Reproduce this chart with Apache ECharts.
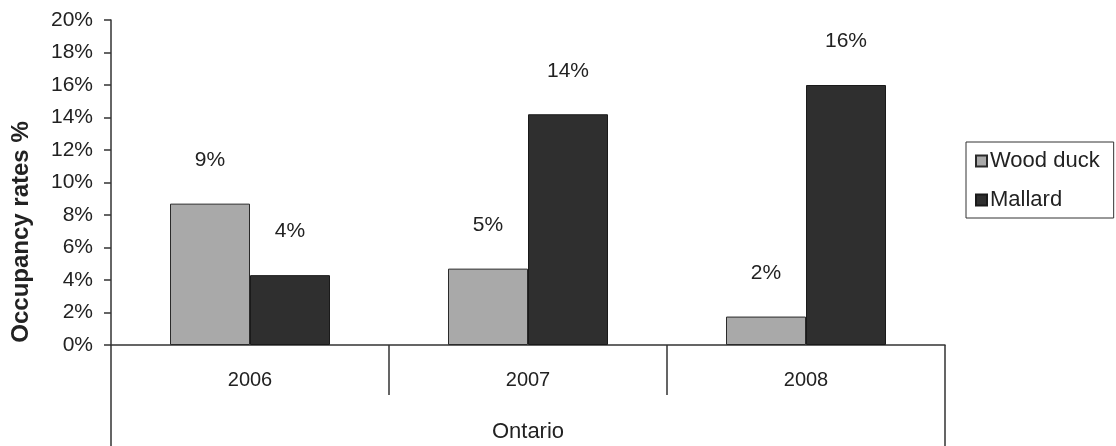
<!DOCTYPE html>
<html>
<head>
<meta charset="utf-8">
<script src="https://cdn.jsdelivr.net/npm/echarts@6/dist/echarts.min.js"></script>
<style>
  html, body { margin: 0; padding: 0; background: #fff; }
  #chart { width: 1116px; height: 446px; }
</style>
</head>
<body>
<div id="chart"></div>
<script>
// Nest box occupancy in Ontario, by year and species (percent)
const years = ['2006', '2007', '2008'];
const region = ['Ontario'];
const woodDuck = [8.7, 4.7, 1.75];
const mallard = [4.3, 14.2, 16.0];
const seriesNames = ['Wood duck', 'Mallard'];

const FONT = '"Liberation Sans", Arial, sans-serif';
const INK = '#222';

const chart = echarts.init(document.getElementById('chart'));

const pctLabel = {
  show: true,
  position: 'top',
  distance: 33,
  fontFamily: FONT,
  fontSize: 21,
  color: INK,
  formatter: p => Math.round(p.value) + '%'
};

chart.setOption({
  animation: false,
  backgroundColor: '#fff',
  grid: { left: 111, right: 171, top: 20, bottom: 101, containLabel: false },
  legend: {
    orient: 'vertical',
    left: 966,
    top: 142,
    padding: [8, 14, 7, 9],
    itemGap: 17,
    itemWidth: 11,
    itemHeight: 11,
    borderColor: '#333',
    borderWidth: 1,
    borderRadius: 0,
    icon: 'rect',
    data: seriesNames,
    textStyle: { fontFamily: FONT, fontSize: 22, color: INK, padding: [0, 0, 0, -2] }
  },
  xAxis: [
    {
      type: 'category',
      data: years,
      position: 'bottom',
      axisLine: { show: true, lineStyle: { color: '#333', width: 1.5 } },
      axisTick: { show: true, alignWithLabel: false, inside: false, length: 50, lineStyle: { color: '#333', width: 1.5 } },
      axisLabel: { margin: 25, fontFamily: FONT, fontSize: 20, color: INK },
      splitLine: { show: false }
    },
    {
      type: 'category',
      data: region,
      position: 'bottom',
      axisLine: { show: false },
      axisTick: { show: true, alignWithLabel: false, length: 110, lineStyle: { color: '#333', width: 1.5 } },
      axisLabel: { margin: 76, fontFamily: FONT, fontSize: 22, color: INK },
      splitLine: { show: false }
    }
  ],
  yAxis: {
    type: 'value',
    min: 0,
    max: 20,
    interval: 2,
    axisLine: { show: true, lineStyle: { color: '#333', width: 1.5 } },
    axisTick: { show: true, length: 7, lineStyle: { color: '#333', width: 1.5 } },
    axisLabel: { margin: 18, fontFamily: FONT, fontSize: 21, color: INK, formatter: '{value}%' },
    splitLine: { show: false }
  },
  graphic: [
    {
      type: 'text',
      x: 21,
      y: 232,
      rotation: Math.PI / 2,
      style: {
        text: 'Occupancy rates %',
        fontFamily: FONT,
        fontSize: 24,
        fontWeight: 'bold',
        fill: INK,
        align: 'center',
        verticalAlign: 'middle'
      }
    }
  ],
  series: [
    {
      name: seriesNames[0],
      type: 'bar',
      xAxisIndex: 0,
      data: woodDuck,
      barWidth: 80,
      barGap: '0%',
      itemStyle: { color: '#a9a9a9', borderColor: '#2a2a2a', borderWidth: 1 },
      label: pctLabel
    },
    {
      name: seriesNames[1],
      type: 'bar',
      xAxisIndex: 0,
      data: mallard,
      barWidth: 80,
      barGap: '0%',
      itemStyle: { color: '#2f2f2f', borderColor: '#1a1a1a', borderWidth: 1 },
      label: pctLabel
    }
  ]
});
</script>
</body>
</html>
